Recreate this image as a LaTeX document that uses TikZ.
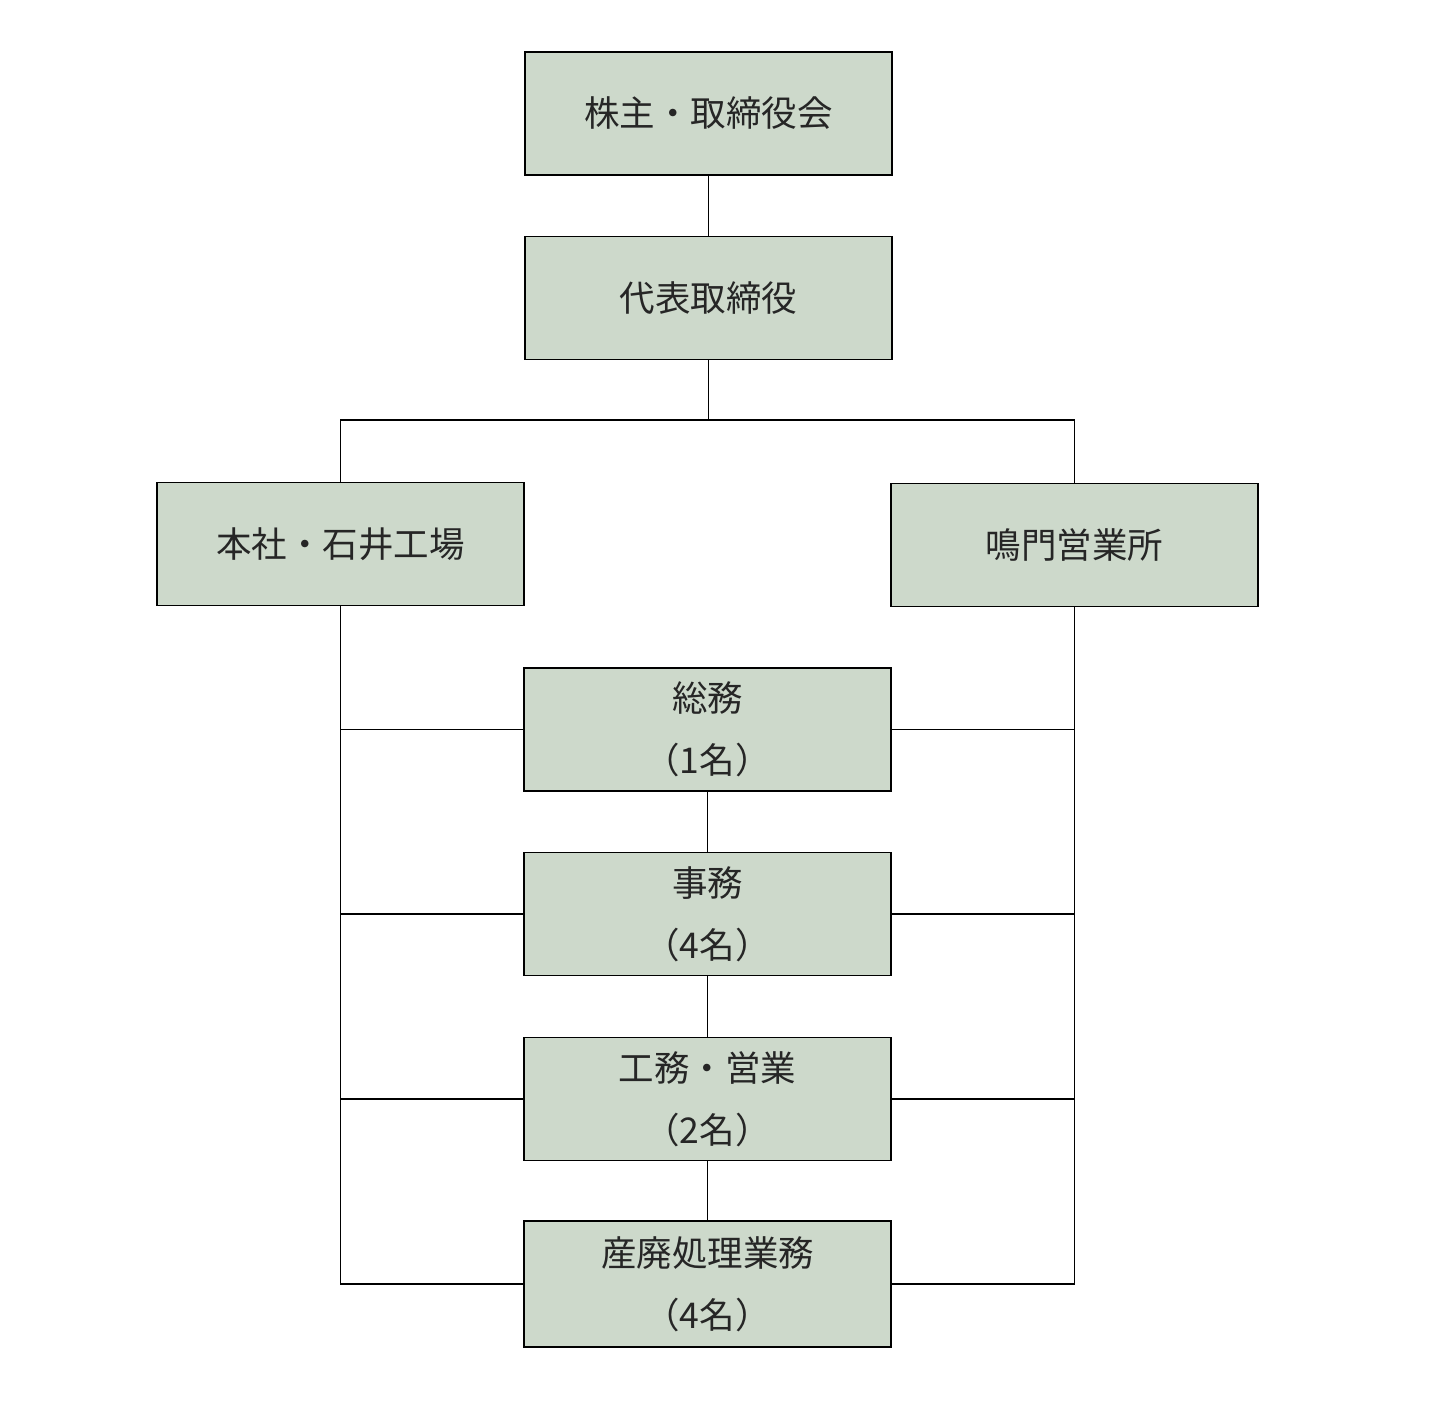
\documentclass[tikz,border=0pt]{standalone}
\usepackage{fontspec}
\newfontfamily\cjk{Noto Sans CJK JP}
\definecolor{boxfill}{RGB}{205,217,203}
\begin{document}
\begin{tikzpicture}[x=1pt,y=1pt,
  orgbox/.style={draw=black, line width=1.6pt, fill=boxfill, minimum width=367pt, minimum height=123pt, inner sep=0pt, align=center, text=black!85, font=\cjk\fontsize{35.5}{62}\selectfont},
  link/.style={draw=black, line width=1.4pt}]
\useasboundingbox (0,0) rectangle (1430,-1404);
\fill[white] (0,0) rectangle (1430,-1404);
\node[orgbox] (b1) at (708.5,-113.5) {株主・取締役会};
\node[orgbox] (b2) at (708.5,-298) {代表取締役};
\node[orgbox] (b3) at (340.5,-544) {本社・石井工場};
\node[orgbox] (b4) at (1074.5,-545) {鳴門営業所};
\node[orgbox] (b5) at (707.5,-729.5) {総務\\（1名）};
\node[orgbox] (b6) at (707.5,-914) {事務\\（4名）};
\node[orgbox] (b7) at (707.5,-1099) {工務・営業\\（2名）};
\node[orgbox, minimum height=126pt] (b8) at (707.5,-1284) {産廃処理業務\\（4名）};
\coordinate (j) at (708.5,-420);
\draw[link] (b1.south) -- (b2.north);
\draw[link] (b2.south) -- (j);
\draw[link] (b3.north) |- (j) -| (b4.north);
\draw[link] (b3.south) -- (b3.south |- b8.west) -- (b8.west);
\draw[link] (b4.south) -- (b4.south |- b8.east) -- (b8.east);
\foreach \b in {b5,b6,b7}{
  \draw[link] (\b.west) -- (\b.west -| b3.south);
  \draw[link] (\b.east) -- (\b.east -| b4.south);
}
\draw[link] (b5.south) -- (b6.north);
\draw[link] (b6.south) -- (b7.north);
\draw[link] (b7.south) -- (b8.north);
\end{tikzpicture}
\end{document}
